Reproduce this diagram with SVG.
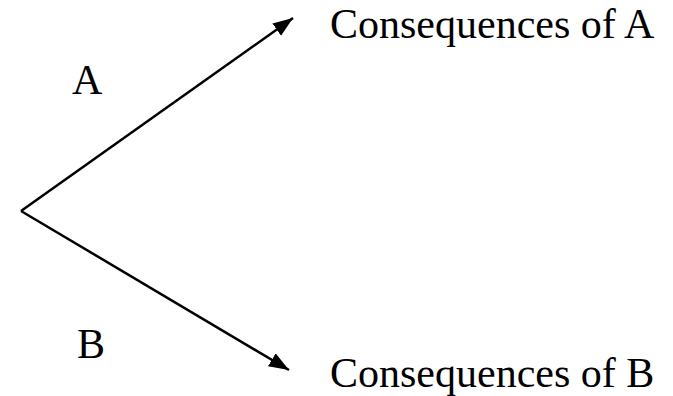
<svg xmlns="http://www.w3.org/2000/svg" width="673" height="396" viewBox="0 0 673 396">
  <style>
    .lbl { font-family: "Liberation Serif", "Times New Roman", serif; font-size: 42px; fill: #000; }
    .edge { stroke: #000; stroke-width: 2.5; fill: none; }
  </style>
  <defs>
    <marker id="arrow" markerUnits="userSpaceOnUse" markerWidth="22" markerHeight="20" viewBox="0 0 22 20" refX="20" refY="10" orient="auto">
      <path d="M0,2.5 L20,10 L0,17.5 z" fill="#000"/>
    </marker>
  </defs>
  <rect width="673" height="396" fill="#fff"/>
  <g id="connectors">
    <line class="edge" x1="21" y1="211" x2="293" y2="18" marker-end="url(#arrow)"/>
    <line class="edge" x1="21" y1="211" x2="289" y2="370" marker-end="url(#arrow)"/>
  </g>
  <g id="edge-labels">
    <text id="label-A" class="lbl" x="72" y="94">A</text>
    <text id="label-B" class="lbl" x="77" y="358">B</text>
  </g>
  <g id="node-consequences-A">
    <text class="lbl" x="330" y="38">Consequences of A</text>
  </g>
  <g id="node-consequences-B">
    <text class="lbl" x="330" y="387">Consequences of B</text>
  </g>
</svg>
